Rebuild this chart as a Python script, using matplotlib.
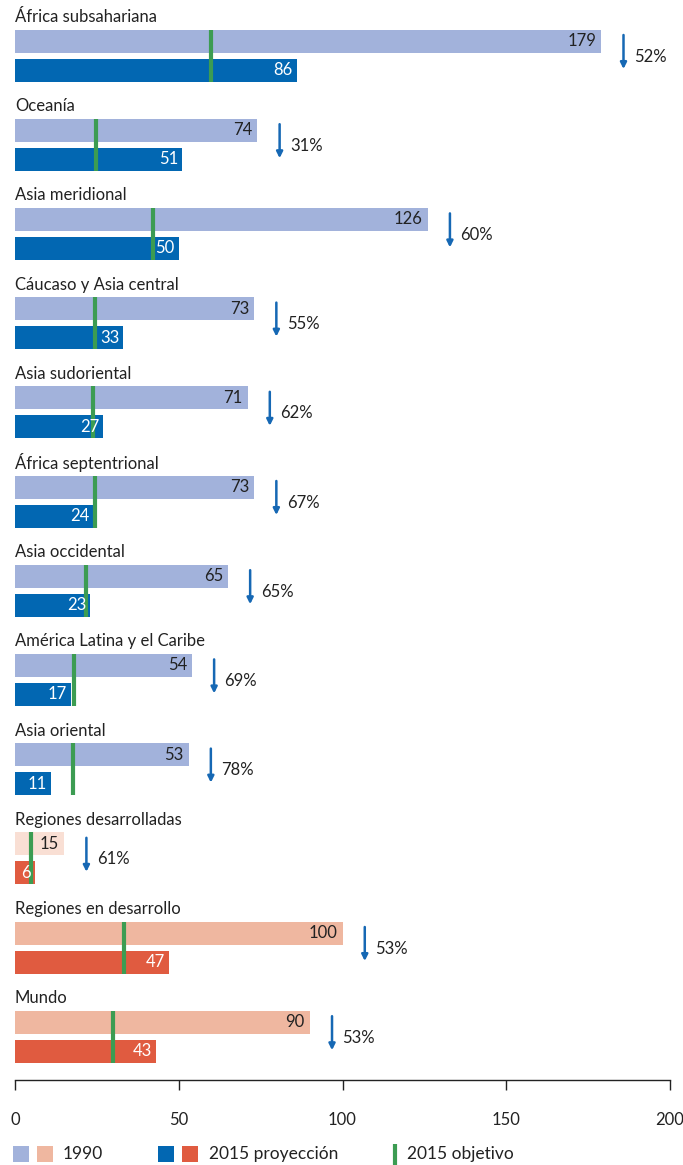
#!/usr/bin/env python3
"""Mortalidad: 1990 vs 2015 proyección vs objetivo 2015, por región."""

import matplotlib
matplotlib.use("Agg")
import matplotlib.pyplot as plt
import matplotlib.transforms as mtransforms
from matplotlib.patches import Rectangle
from matplotlib.lines import Line2D

plt.rcParams["font.family"] = ["Lato", "DejaVu Sans"]

regions = [
    "África subsahariana",
    "Oceanía",
    "Asia meridional",
    "Cáucaso y Asia central",
    "Asia sudoriental",
    "África septentrional",
    "Asia occidental",
    "América Latina y el Caribe",
    "Asia oriental",
    "Regiones desarrolladas",
    "Regiones en desarrollo",
    "Mundo",
]
values_1990 = [179, 74, 126, 73, 71, 73, 65, 54, 53, 15, 100, 90]
values_2015 = [86, 51, 50, 33, 27, 24, 23, 17, 11, 6, 47, 43]
targets_2015 = [59.7, 24.7, 42, 24.3, 23.7, 24.3, 21.7, 18, 17.7, 5, 33.3, 30]
reductions = ["52%", "31%", "60%", "55%", "62%", "67%", "65%", "69%", "78%", "61%", "53%", "53%"]
# colour group: 0 = regional (blue), 1 = developed (pale red), 2 = aggregates (red)
groups = [0, 0, 0, 0, 0, 0, 0, 0, 0, 1, 2, 2]

light_colors = ["#a2b2db", "#f9dfd4", "#efb7a0"]
dark_colors = ["#0267b2", "#e05b40", "#e05b40"]
green = "#3c9c52"
arrow_blue = "#1668b4"
text_dark = "#222222"

W, H = 683, 1165
fig = plt.figure(figsize=(W / 100, H / 100), dpi=100)
ax = fig.add_axes([15 / W, (H - 1080) / H, 655 / W, 1080 / H])
ax.set_xlim(0, 200)
ax.set_ylim(1080, 0)

step = 89.2
bar_h = 23
for i, name in enumerate(regions):
    yl = 41 + i * step
    yd = yl + 29
    g = groups[i]
    v0, v1 = values_1990[i], values_2015[i]

    ax.text(0, yl - 24, name, fontsize=12, color=text_dark, va="center", ha="left")
    ax.barh(yl, v0, height=bar_h, color=light_colors[g], linewidth=0)
    ax.barh(yd, v1, height=bar_h, color=dark_colors[g], linewidth=0)

    ax.text(v0 - 1.5, yl, str(v0), fontsize=12, color=text_dark, va="center", ha="right")
    ax.text(v1 - 1.2, yd, str(v1), fontsize=12, color="white", va="center", ha="right")

    ax.plot([targets_2015[i]] * 2, [yl - bar_h / 2, yd + bar_h / 2],
            color=green, lw=3, solid_capstyle="butt")

    xa = v0 + 6.8
    ax.annotate("", xy=(xa, yd - 1), xytext=(xa, yl - 6),
                arrowprops=dict(arrowstyle="-|>", color=arrow_blue, lw=1.8,
                                mutation_scale=9, shrinkA=0, shrinkB=0))
    ax.text(xa + 3.2, (yl + yd) / 2 + 1, reductions[i], fontsize=12,
            color=text_dark, va="center", ha="left")

for s in ["top", "left", "right"]:
    ax.spines[s].set_visible(False)
ax.spines["bottom"].set_linewidth(1)
ax.spines["bottom"].set_color("#222222")
ax.set_yticks([])
ax.set_xticks([0, 50, 100, 150, 200])
ax.tick_params(axis="x", direction="out", length=7, width=1, pad=16,
               labelsize=12, colors=text_dark)
labels = ax.get_xticklabels()
labels[-1].set_horizontalalignment("right")
off = mtransforms.ScaledTranslation(14 / 100, 0, fig.dpi_scale_trans)
labels[-1].set_transform(labels[-1].get_transform() + off)

# legend drawn manually along the bottom
ly = H - 1154


def fx(px):
    return px / W


def fy(py):
    return py / H


for x0, c in [(13, light_colors[0]), (37, light_colors[2]),
              (158, dark_colors[0]), (182, dark_colors[1])]:
    fig.patches.append(Rectangle((fx(x0), fy(ly - 8)), 16 / W, 16 / H,
                                 transform=fig.transFigure, color=c, lw=0))
fig.lines.append(Line2D([fx(395), fx(395)], [fy(ly - 11), fy(ly + 10)],
                        transform=fig.transFigure, color=green, lw=3,
                        solid_capstyle="butt"))
fig.text(fx(63), fy(ly), "1990", fontsize=12.5, color=text_dark, va="center")
fig.text(fx(209), fy(ly), "2015 proyección", fontsize=12.5, color=text_dark, va="center")
fig.text(fx(407), fy(ly), "2015 objetivo", fontsize=12.5, color=text_dark, va="center")

fig.savefig("out.png", dpi=100)
